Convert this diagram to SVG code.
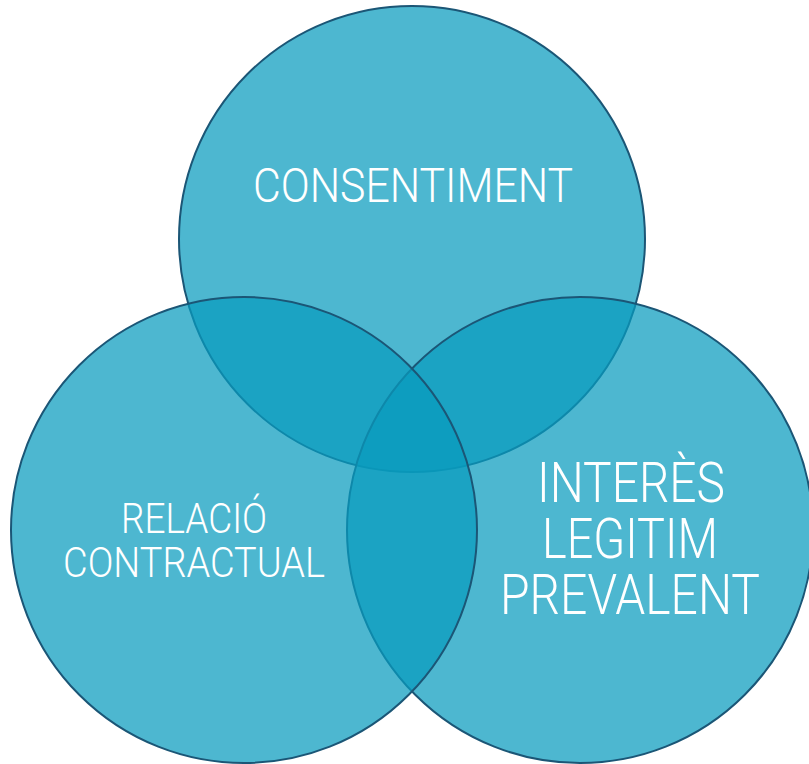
<svg xmlns="http://www.w3.org/2000/svg" width="809" height="764" viewBox="0 0 809 764">
  <style>
    .ring { fill: #089bbe; fill-opacity: 0.72; stroke: #1b5676; stroke-width: 2; }
    .label { fill: #ffffff; font-family: Roboto, "Open Sans", "Liberation Sans", sans-serif; font-weight: 300; text-anchor: middle; }
  </style>
  <rect width="809" height="764" fill="#ffffff"/>
  <g id="consentiment">
    <circle class="ring" cx="412" cy="239" r="233"/>
  </g>
  <g id="interes-legitim">
    <circle class="ring" cx="580" cy="530" r="233"/>
  </g>
  <g id="relacio-contractual">
    <circle class="ring" cx="244" cy="530" r="233"/>
  </g>
  <g id="labels">
    <text class="label" x="413" y="202" font-size="48" textLength="320" lengthAdjust="spacingAndGlyphs">CONSENTIMENT</text>
    <text class="label" x="194" y="533" font-size="43" textLength="146" lengthAdjust="spacingAndGlyphs">RELACIÓ</text>
    <text class="label" x="194" y="577" font-size="43" textLength="262" lengthAdjust="spacingAndGlyphs">CONTRACTUAL</text>
    <text class="label" x="631" y="502" font-size="55" textLength="188" lengthAdjust="spacingAndGlyphs">INTERÈS</text>
    <text class="label" x="630" y="558" font-size="55" textLength="176" lengthAdjust="spacingAndGlyphs">LEGITIM</text>
    <text class="label" x="630" y="614" font-size="55" textLength="260" lengthAdjust="spacingAndGlyphs">PREVALENT</text>
  </g>
</svg>
